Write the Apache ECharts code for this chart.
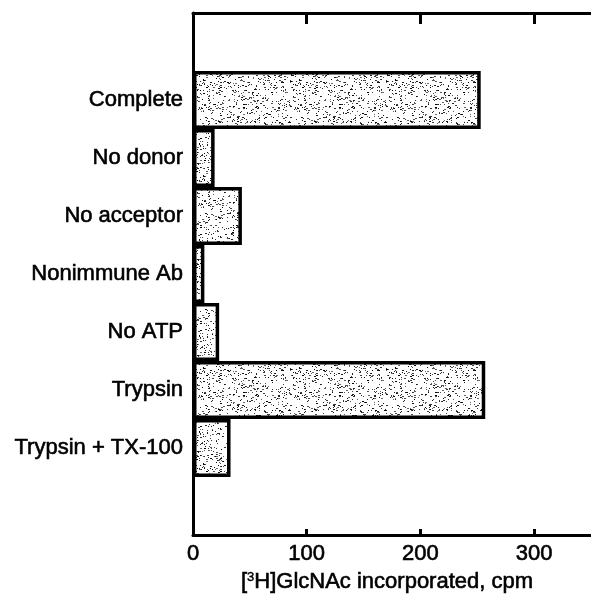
<!DOCTYPE html>
<html>
<head>
<meta charset="utf-8">
<script src="https://cdn.jsdelivr.net/npm/echarts@6/dist/echarts.min.js"></script>
<style>
    html, body { margin: 0; padding: 0; background: #fff; }
    #main_chart { width: 591px; height: 598px; }
</style>
</head>
<body>
<div id="main_chart"></div>
<script>
// 条件 (从上到下)
var conditions = ['Complete', 'No donor', 'No acceptor', 'Nonimmune Ab', 'No ATP', 'Trypsin', 'Trypsin + TX-100'];
// [3H]GlcNAc incorporated, cpm
var cpmValues = [253, 19, 43, 10, 23, 257, 33];
var xTicks = [0, 100, 200, 300];

// 点状纹理
function makeStipple() {
    var c = document.createElement('canvas');
    c.width = 96;
    c.height = 96;
    var ctx = c.getContext('2d');
    ctx.fillStyle = '#ffffff';
    ctx.fillRect(0, 0, 96, 96);
    var seed = 12345;
    function rnd() {
        seed = (seed * 1103515245 + 12345) % 2147483648;
        return seed / 2147483648;
    }
    for (var i = 0; i < 950; i++) {
        var x = Math.floor(rnd() * 96);
        var y = Math.floor(rnd() * 96);
        var g = Math.floor(rnd() * 110);
        ctx.fillStyle = 'rgb(' + g + ',' + g + ',' + g + ')';
        ctx.fillRect(x, y, rnd() < 0.3 ? 2 : 1, 1);
    }
    return c;
}

// 上下各留一个空位
var categories = [''].concat(conditions).concat(['']);
var barData = [null].concat(cpmValues).concat([null]);

var axisLineStyle = { color: '#000', width: 3 };
var font = 'Liberation Sans, Arial, Helvetica, sans-serif';

var option = {
    animation: false,
    backgroundColor: '#fff',
    grid: {
        top: 13,
        left: 193,
        right: 0,
        bottom: 63
    },
    xAxis: [{
        type: 'value',
        position: 'bottom',
        min: 0,
        max: 350,
        interval: 100,
        splitLine: { show: false },
        axisLine: { show: true, lineStyle: axisLineStyle },
        axisTick: {
            show: true, inside: true, length: 6,
            customValues: [100, 200, 300],
            lineStyle: { color: '#000', width: 3 }
        },
        axisLabel: {
            color: '#000',
            fontSize: 22,
            fontFamily: font,
            margin: 8,
            customValues: xTicks,
            textBorderColor: '#000',
            textBorderWidth: 0.6
        },
        name: '{b|[}{sup|3}{b|H]GlcNAc incorporated, cpm}',
        nameLocation: 'middle',
        nameGap: 23,
        nameTextStyle: {
            padding: [0, 10, 0, 0],
            rich: {
                b: { fontSize: 22, fontFamily: font, color: '#000', textBorderColor: '#000', textBorderWidth: 0.6 },
                sup: { fontSize: 13, fontFamily: font, color: '#000', verticalAlign: 'top', padding: [0, 0, 8, 0], textBorderColor: '#000', textBorderWidth: 0.4 }
            }
        }
    }, {
        type: 'value',
        position: 'top',
        min: 0,
        max: 350,
        interval: 100,
        splitLine: { show: false },
        axisLine: { show: true, lineStyle: axisLineStyle },
        axisTick: {
            show: true, inside: true, length: 11,
            customValues: [100, 200, 300],
            lineStyle: { color: '#000', width: 3 }
        },
        axisLabel: { show: false }
    }],
    yAxis: {
        type: 'category',
        inverse: true,
        data: categories,
        axisLine: { show: true, lineStyle: axisLineStyle },
        axisTick: { show: false },
        axisLabel: {
            color: '#000',
            fontSize: 22,
            fontFamily: font,
            margin: 10,
            textBorderColor: '#000',
            textBorderWidth: 0.6
        }
    },
    series: [{
        type: 'bar',
        data: barData,
        barCategoryGap: 0,
        itemStyle: {
            color: { image: makeStipple(), repeat: 'repeat' },
            borderColor: '#000',
            borderWidth: 3.5
        }
    }]
};

echarts.init(document.getElementById('main_chart')).setOption(option);
</script>
</body>
</html>
